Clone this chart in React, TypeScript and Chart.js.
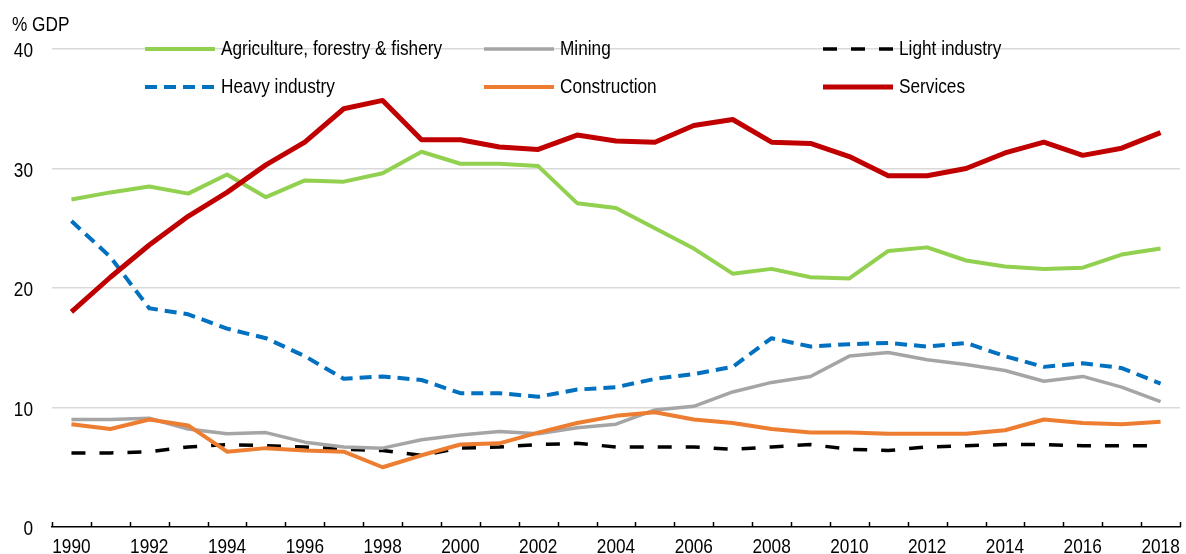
import { useEffect, useRef } from "react";
import { Chart, registerables } from "chart.js";

Chart.register(...registerables);

const years = ["1990","1991","1992","1993","1994","1995","1996","1997","1998","1999","2000","2001","2002","2003","2004","2005","2006","2007","2008","2009","2010","2011","2012","2013","2014","2015","2016","2017","2018"];

const agriculture = [27.4,28.0,28.5,27.9,29.5,27.6,29.0,28.9,29.6,31.4,30.4,30.4,30.2,27.1,26.7,25.0,23.3,21.2,21.6,20.9,20.8,23.1,23.4,22.3,21.8,21.6,21.7,22.8,23.3];
const mining = [9.0,9.0,9.1,8.2,7.8,7.9,7.1,6.7,6.6,7.3,7.7,8.0,7.8,8.3,8.6,9.8,10.1,11.3,12.1,12.6,14.3,14.6,14.0,13.6,13.1,12.2,12.6,11.7,10.5];
const lightIndustry = [6.2,6.2,6.3,6.7,6.9,6.8,6.7,6.5,6.4,6.0,6.6,6.7,6.9,7.0,6.7,6.7,6.7,6.5,6.7,6.9,6.5,6.4,6.7,6.8,6.9,6.9,6.8,6.8,6.8];
const heavyIndustry = [25.6,22.6,18.3,17.8,16.6,15.8,14.3,12.4,12.6,12.3,11.2,11.2,10.9,11.5,11.7,12.4,12.8,13.4,15.8,15.1,15.3,15.4,15.1,15.4,14.3,13.4,13.7,13.3,12.0];
const construction = [8.6,8.2,9.0,8.5,6.3,6.6,6.4,6.3,5.0,6.0,6.9,7.0,7.9,8.7,9.3,9.6,9.0,8.7,8.2,7.9,7.9,7.8,7.8,7.8,8.1,9.0,8.7,8.6,8.8];
const services = [18.0,20.9,23.6,26.0,28.0,30.3,32.2,35.0,35.7,32.4,32.4,31.8,31.6,32.8,32.3,32.2,33.6,34.1,32.2,32.1,31.0,29.4,29.4,30.0,31.3,32.2,31.1,31.7,33.0];

const yTicks = [0, 10, 20, 30, 40];
const yTitle = "% GDP";

const FONT = '"Liberation Sans", Arial, sans-serif';
const FS = 21;
const SQUEEZE = 0.82;

const seriesDefs = [
  { label: "Agriculture, forestry & fishery", data: agriculture, color: "#92D050", width: 4, dash: [] as number[], order: 2 },
  { label: "Mining", data: mining, color: "#A5A5A5", width: 3.5, dash: [] as number[], order: 4 },
  { label: "Light industry", data: lightIndustry, color: "#000000", width: 3.5, dash: [14, 14], order: 5 },
  { label: "Heavy industry", data: heavyIndustry, color: "#0070C0", width: 4, dash: [12, 7], order: 3 },
  { label: "Construction", data: construction, color: "#ED7D31", width: 4, dash: [] as number[], order: 1 },
  { label: "Services", data: services, color: "#C00000", width: 5, dash: [] as number[], order: 0 },
];

function drawText(ctx: CanvasRenderingContext2D, txt: string, x: number, y: number, align: CanvasTextAlign) {
  ctx.save();
  ctx.translate(x, y);
  ctx.scale(SQUEEZE, 1);
  ctx.font = `${FS}px ${FONT}`;
  ctx.fillStyle = "#000";
  ctx.textAlign = align;
  ctx.textBaseline = "alphabetic";
  ctx.fillText(txt, 0, 0);
  ctx.restore();
}

const overlay = {
  id: "overlay",
  afterDraw(chart: any) {
    const ctx = chart.ctx as CanvasRenderingContext2D;
    const xs = chart.scales.x;
    const ys = chart.scales.y;
    const area = chart.chartArea;
    ctx.save();
    // tick marks pointing up between categories
    const n = years.length;
    const step = (xs.right - xs.left) / n;
    ctx.strokeStyle = "#000";
    ctx.lineWidth = 1.5;
    for (let i = 0; i <= n; i++) {
      const x = Math.round(xs.left + i * step) + 0.5;
      ctx.beginPath();
      ctx.moveTo(x, area.bottom);
      ctx.lineTo(x, area.bottom - 5);
      ctx.stroke();
    }
    // x labels
    years.forEach((y, i) => {
      if (i % 2 === 0) drawText(ctx, y, xs.getPixelForValue(i), 553, "center");
    });
    // y labels
    yTicks.forEach((v) => {
      drawText(ctx, String(v), 33, ys.getPixelForValue(v) + 8, "right");
    });
    // axis title
    drawText(ctx, yTitle, 12, 31, "left");
    // legend
    const cols = [145, 484, 823];
    const rows = [49, 87];
    seriesDefs.forEach((s, i) => {
      const x = cols[i % 3];
      const y = rows[Math.floor(i / 3)];
      ctx.beginPath();
      ctx.strokeStyle = s.color;
      ctx.lineWidth = s.width;
      ctx.lineCap = "butt";
      ctx.setLineDash(s.dash);
      ctx.moveTo(x, y);
      ctx.lineTo(x + 70, y);
      ctx.stroke();
      ctx.setLineDash([]);
      drawText(ctx, s.label, x + 76, y + 6, "left");
    });
    ctx.restore();
  },
};

export default function App() {
  const ref = useRef<HTMLCanvasElement>(null);
  useEffect(() => {
    document.body.style.margin = "0";
    const canvas = ref.current!;
    const chart = new Chart(canvas, {
      type: "line",
      data: {
        labels: years,
        datasets: seriesDefs.map((s) => ({
          label: s.label,
          data: s.data,
          borderColor: s.color,
          backgroundColor: s.color,
          borderWidth: s.width,
          borderDash: s.dash,
          borderJoinStyle: "round" as const,
          borderCapStyle: "butt" as const,
          pointRadius: 0,
          fill: false,
          tension: 0,
          order: s.order,
        })),
      },
      options: {
        responsive: false,
        animation: false,
        devicePixelRatio: 1,
        layout: { padding: { left: 0, right: 6, top: 49, bottom: 0 } },
        plugins: { legend: { display: false }, tooltip: { enabled: false } },
        scales: {
          x: {
            offset: true,
            grid: { display: false, drawTicks: false },
            border: { display: true, color: "#000", width: 1.5 },
            ticks: { display: false, autoSkip: false },
            afterFit: (s: any) => {
              s.height = 27;
            },
          },
          y: {
            min: yTicks[0],
            max: yTicks[yTicks.length - 1],
            afterBuildTicks: (s: any) => {
              s.ticks = yTicks.map((v) => ({ value: v }));
            },
            ticks: { display: false },
            grid: {
              color: (c: any) => (c.tick && c.tick.value === 0 ? "rgba(0,0,0,0)" : "#D9D9D9"),
              lineWidth: 1.5,
              drawTicks: false,
            },
            border: { display: false },
            afterFit: (s: any) => {
              s.width = 52;
            },
          },
        },
      },
      plugins: [overlay],
    });
    return () => chart.destroy();
  }, []);
  return <canvas ref={ref} width={1186} height={554} style={{ display: "block" }} />;
}
